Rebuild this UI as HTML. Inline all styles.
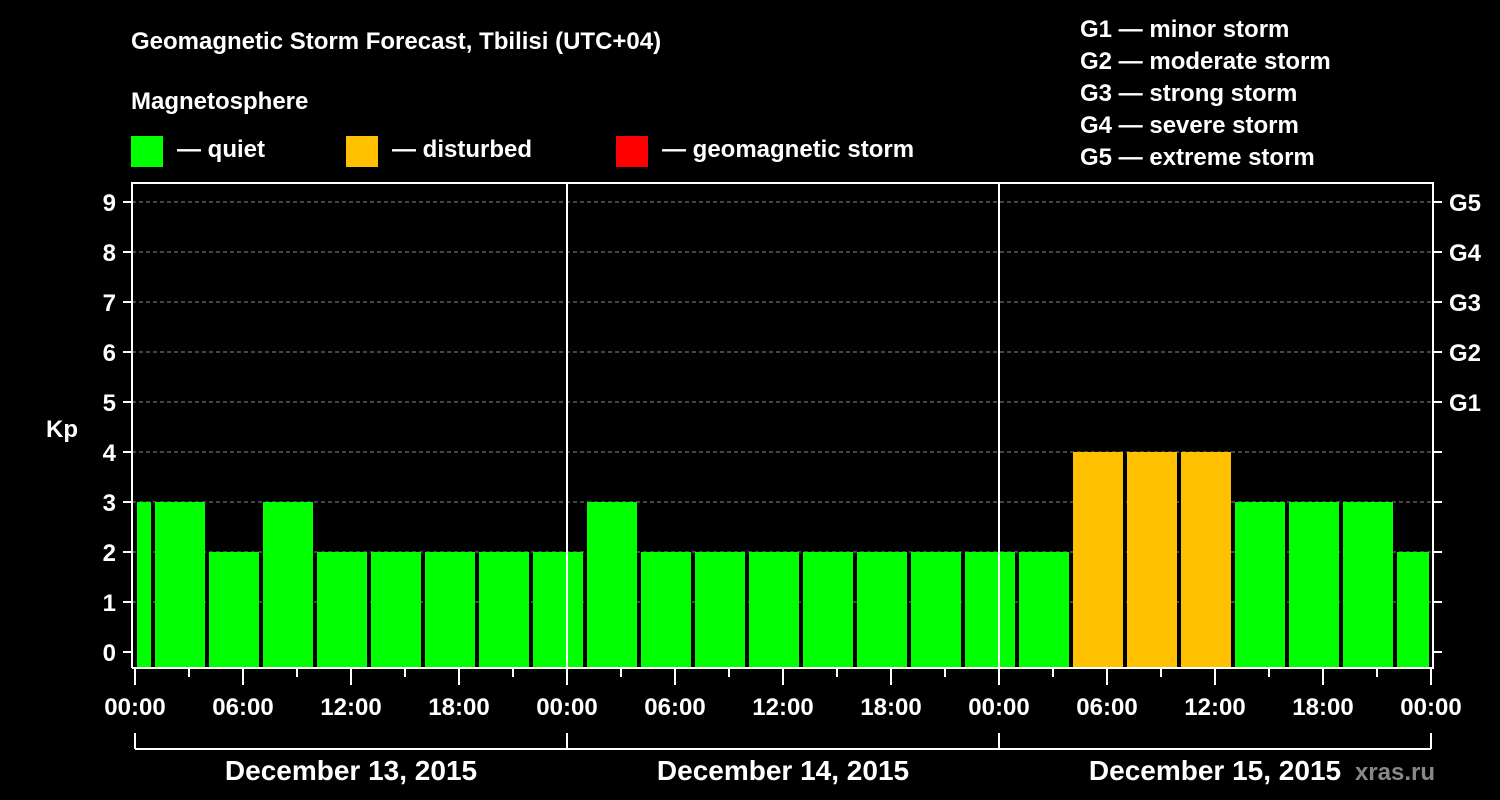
<!DOCTYPE html>
<html><head><meta charset="utf-8"><style>
body{margin:0;background:#000;}
svg{display:block;font-family:"Liberation Sans",Arial,sans-serif;font-weight:bold;}
</style></head><body>
<svg id="chart" width="1500" height="800" viewBox="0 0 1500 800">
<rect width="1500" height="800" fill="#000"/>
<text x="131" y="49" fill="#fff" font-size="24">Geomagnetic Storm Forecast, Tbilisi (UTC+04)</text>
<text x="131" y="109" fill="#fff" font-size="24">Magnetosphere</text>
<g><rect x="131" y="136" width="32" height="31" fill="#00ff00"/><text x="177" y="157" fill="#fff" font-size="24">— quiet</text></g>
<g><rect x="346" y="136" width="32" height="31" fill="#ffc000"/><text x="392" y="157" fill="#fff" font-size="24">— disturbed</text></g>
<g><rect x="616" y="136" width="32" height="31" fill="#ff0000"/><text x="662" y="157" fill="#fff" font-size="24">— geomagnetic storm</text></g>
<g fill="#fff" font-size="24">
<text x="1080" y="37">G1 — minor storm</text>
<text x="1080" y="69">G2 — moderate storm</text>
<text x="1080" y="101">G3 — strong storm</text>
<text x="1080" y="133">G4 — severe storm</text>
<text x="1080" y="165">G5 — extreme storm</text>
</g>
<text x="62" y="437" fill="#fff" font-size="24" text-anchor="middle">Kp</text>
<text x="1435" y="780" fill="#888" font-size="24" text-anchor="end">xras.ru</text>
<g id="grid"></g><g id="bars"></g><g id="axes"></g>
</svg>
<script>
const binStartHours=[-2,1,4,7,10,13,16,19,22,25,28,31,34,37,40,43,46,49,52,55,58,61,64,67,70];
const kpValues=[3,3,2,3,2,2,2,2,2,3,2,2,2,2,2,2,2,2,4,4,4,3,3,3,2];
const yTicks=[0,1,2,3,4,5,6,7,8,9];
const gLabels=["G1","G2","G3","G4","G5"];
const xTickLabels=["00:00","06:00","12:00","18:00","00:00","06:00","12:00","18:00","00:00","06:00","12:00","18:00","00:00"];
const dayLabels=["December 13, 2015","December 14, 2015","December 15, 2015"];
const NS="http://www.w3.org/2000/svg";
const X0=135,PXH=18,Y0=652,PKP=50,TOTAL=72;
const x=h=>X0+h*PXH, y=k=>Y0-k*PKP;
function mk(tag,attrs,parent){const e=document.createElementNS(NS,tag);for(const k in attrs)e.setAttribute(k,attrs[k]);parent.appendChild(e);return e;}
const grid=document.getElementById('grid'),bars=document.getElementById('bars'),axes=document.getElementById('axes');
yTicks.forEach(k=>{if(k>0){const l=mk('line',{x1:132,x2:1433,y1:y(k),y2:y(k),stroke:'#888','stroke-dasharray':'4,3','stroke-width':1},grid);

}});
binStartHours.forEach((h,i)=>{const s=Math.max(0,h),e=Math.min(TOTAL,h+3);const k=kpValues[i];
const c=k>=5?'#ff0000':(k>=4?'#ffc000':'#00ff00');
const r=mk('rect',{x:x(s)+2,y:y(k),width:x(e)-x(s)-4,height:668-y(k),fill:c},bars);

});
// frame
mk('polyline',{points:`132,668 132,183 1433,183 1433,668 132,668`,fill:'none',stroke:'#fff','stroke-width':2},axes);
[24,48].forEach(h=>mk('line',{x1:x(h),x2:x(h),y1:183,y2:668,stroke:'#fff','stroke-width':2},axes));
yTicks.forEach(k=>{mk('line',{x1:123,x2:132,y1:y(k),y2:y(k),stroke:'#fff','stroke-width':2},axes);
mk('line',{x1:1433,x2:1442,y1:y(k),y2:y(k),stroke:'#fff','stroke-width':2},axes);
const t=mk('text',{x:116,y:y(k)+9,fill:'#fff','font-size':24,'text-anchor':'end'},axes);t.textContent=k;

});
gLabels.forEach((g,i)=>{const t=mk('text',{x:1449,y:y(5+i)+9,fill:'#fff','font-size':24},axes);t.textContent=g;

});
for(let h=0;h<=TOTAL;h+=3){mk('line',{x1:x(h),x2:x(h),y1:668,y2:h%6===0?685:677,stroke:'#fff','stroke-width':2},axes);}
xTickLabels.forEach((lb,i)=>{const t=mk('text',{x:x(i*6),y:715,fill:'#fff','font-size':24,'text-anchor':'middle'},axes);t.textContent=lb;

});
mk('line',{x1:x(0),x2:x(72),y1:749,y2:749,stroke:'#fff','stroke-width':2},axes);
[0,24,48,72].forEach(h=>mk('line',{x1:x(h),x2:x(h),y1:733,y2:749,stroke:'#fff','stroke-width':2},axes));
dayLabels.forEach((d,i)=>{const t=mk('text',{x:x(i*24+12),y:780,fill:'#fff','font-size':28,'text-anchor':'middle'},axes);t.textContent=d;

});
</script>
</body></html>
